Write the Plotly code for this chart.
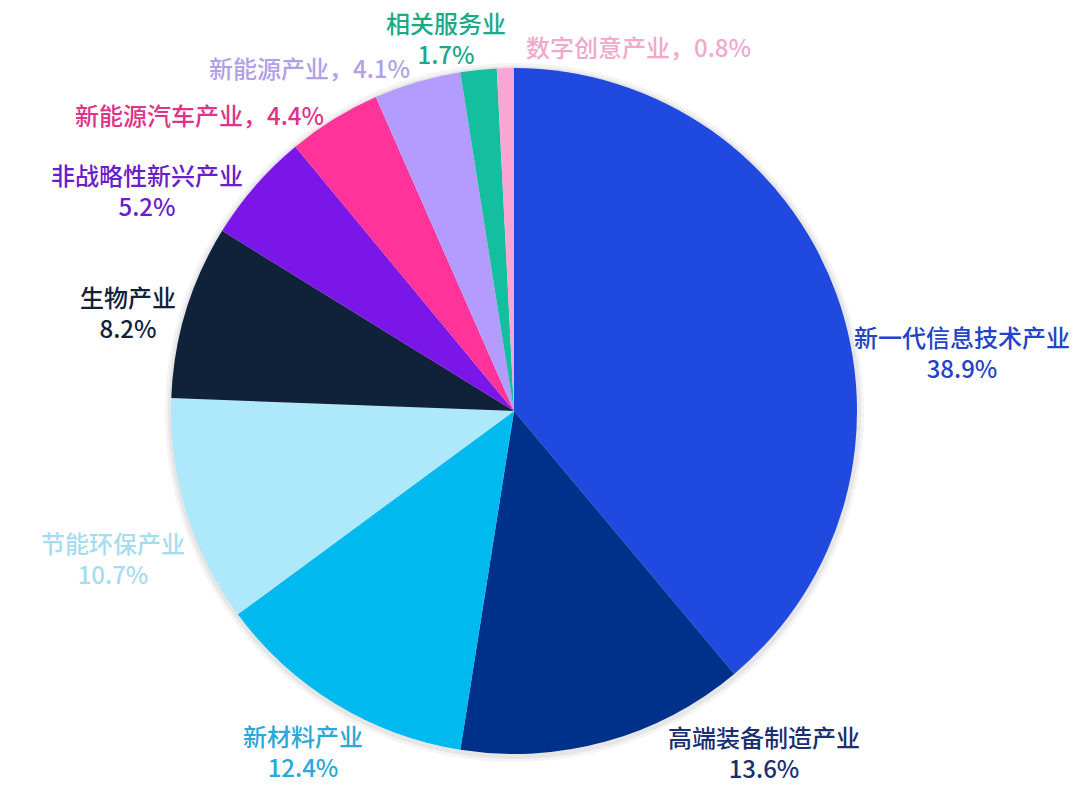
import math
import plotly.graph_objects as go

# industry share data
industries = [
    '新一代信息技术产业', '高端装备制造产业', '新材料产业', '节能环保产业',
    '生物产业', '非战略性新兴产业', '新能源汽车产业', '新能源产业',
    '相关服务业', '数字创意产业',
]
shares = [38.9, 13.6, 12.4, 10.7, 8.2, 5.2, 4.4, 4.1, 1.7, 0.8]

slice_colors = [
    '#2049e0', '#00318a', '#00b9ef', '#aee8fb', '#10213a',
    '#7b16e8', '#ff3399', '#b49cff', '#13bf9f', '#f9a6d4',
]
label_colors = [
    '#2244c8', '#1a2f70', '#2aa8d8', '#a6dcf0', '#10213a',
    '#6a1ec8', '#e0338a', '#b0a0e8', '#1aaa8a', '#f0a8cc',
]

# a few labels sit on one line in the original
one_line = {'新能源汽车产业', '新能源产业', '数字创意产业'}

# label nudges (px) away from the rim point of each slice
label_nudge = {
    '新一代信息技术产业': (126, 58),
    '高端装备制造产业': (158, 10),
    '新材料产业': (-33, 47),
    '节能环保产业': (-73, 46),
    '生物产业': (-58, 1),
    '非战略性新兴产业': (-108, 4),
    '新能源汽车产业': (-134, -5),
    '新能源产业': (-108, -14),
    '相关服务业': (-33, -32),
    '数字创意产业': (133, -22),
}

W, H = 1080, 793
# page body adds 8px margin, so pull the pie centre back by that much
CX, CY, R = 506, 403, 343  # pie centre / radius in px

fig = go.Figure()

# soft shadow rings behind the pie
for pad, col in [(6, '#f4f4f4'), (3, '#e6e6e6')]:
    fig.add_trace(go.Pie(
        values=[1],
        marker=dict(colors=[col], line=dict(width=0)),
        textinfo='none',
        hoverinfo='skip',
        showlegend=False,
        sort=False,
        domain=dict(x=[(CX - R - pad) / W, (CX + R + pad + 1) / W],
                    y=[1 - (CY + R + pad + 2) / H, 1 - (CY - R - pad + 1) / H]),
    ))

fig.add_trace(go.Pie(
    labels=industries,
    values=shares,
    sort=False,
    direction='clockwise',
    rotation=0,
    marker=dict(colors=slice_colors, line=dict(width=0)),
    textinfo='none',
    showlegend=False,
    hoverinfo='label+percent',
    domain=dict(x=[(CX - R) / W, (CX + R) / W],
                y=[1 - (CY + R) / H, 1 - (CY - R) / H]),
))

# labels: start at the rim point of each slice's middle angle
total = sum(shares)
cum = 0
for name, val, col in zip(industries, shares, label_colors):
    mid = (cum + val / 2) / total * 2 * math.pi
    cum += val
    px = CX + R * math.sin(mid)
    py = CY - R * math.cos(mid)
    if name in one_line:
        text = f'{name}，{val:.1f}%'
    else:
        text = f'{name}<br>{val:.1f}%'
    dx, dy = label_nudge[name]
    fig.add_annotation(
        x=px / W, y=1 - py / H, xref='paper', yref='paper',
        text=text, showarrow=False,
        xanchor='center', yanchor='middle', align='center',
        xshift=dx, yshift=-dy,
        font=dict(size=24, color=col, family='Noto Sans CJK SC', weight=500),
    )

fig.update_layout(
    width=W,
    height=H,
    margin=dict(l=0, r=0, t=0, b=0),
    paper_bgcolor='white',
    plot_bgcolor='white',
    font=dict(family='Noto Sans CJK SC'),
)

fig.write_html("out.html")
